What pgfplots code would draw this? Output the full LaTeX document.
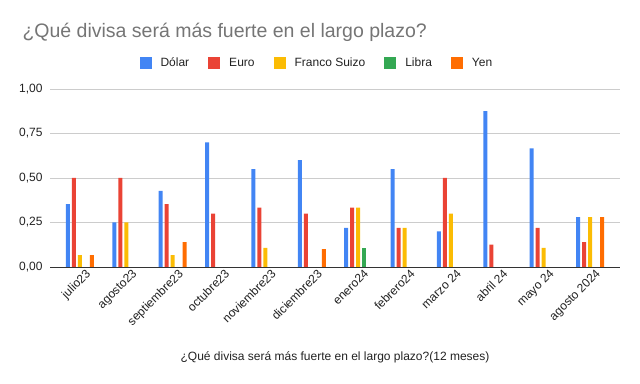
\documentclass[border=0pt]{standalone}
\usepackage{pgfplots}
\pgfplotsset{compat=1.18}
\usepackage{fontspec}
\setmainfont{Liberation Sans}
\definecolor{cDolar}{HTML}{4285F4}
\definecolor{cEuro}{HTML}{EA4335}
\definecolor{cFranco}{HTML}{FBBC04}
\definecolor{cLibra}{HTML}{34A853}
\definecolor{cYen}{HTML}{FF6D01}
\definecolor{titlegray}{HTML}{757575}
\definecolor{textdark}{HTML}{222222}
\begin{document}
\begin{tikzpicture}
\path[use as bounding box] (0bp,0bp) rectangle (640bp,384bp);
\node[anchor=base west, text=titlegray, font=\fontsize{19.5bp}{22bp}\selectfont] at (19bp,346bp) {¿Qué divisa será más fuerte en el largo plazo?};
\begin{axis}[
  at={(50bp,117bp)}, anchor=south west,
  scale only axis,
  width=570bp, height=178bp,
  xmin=-0.647, xmax=11.647,
  ymin=0, ymax=1,
  ybar=2bp, bar width=4bp,
  xtick={0,1,2,3,4,5,6,7,8,9,10,11},
  xticklabels={julio23,agosto23,septiembre23,octubre23,noviembre23,diciembre23,enero24,febrero24,marzo 24,abril 24,mayo 24,agosto 2024},
  ytick={0,0.25,0.5,0.75,1},
  axis lines*=left,
  y axis line style={draw=none},
  x axis line style={draw=black!80, line width=1pt},
  major tick length=0pt,
  ymajorgrids,
  grid style={draw=black!20, line width=0.8pt},
  tick label style={text=textdark, font=\fontsize{12bp}{14bp}\selectfont},
  /pgf/number format/assume math mode=true,
  yticklabel style={/pgf/number format/.cd, fixed, fixed zerofill, precision=2, use comma, assume math mode=true},
  yticklabel shift=4bp,
  xticklabel style={rotate=45, anchor=north east, xshift=6bp, yshift=-1bp},
  xlabel={¿Qué divisa será más fuerte en el largo plazo?(12 meses)},
  xlabel style={at={(axis description cs:0.5,-0.506)}, anchor=center, text=textdark, font=\fontsize{12bp}{14bp}\selectfont},
  legend columns=5,
  legend style={at={(0.470,1.148)}, anchor=center, draw=none, fill=none,
    font=\fontsize{12bp}{14bp}\selectfont, text=textdark,
    /tikz/every even column/.append style={column sep=15bp},
    /tikz/every odd column/.append style={column sep=5bp},
    nodes={inner xsep=4bp}},
  legend image code/.code={\fill[#1] (0bp,-6bp) rectangle (12bp,6bp);},
]
\addplot[fill=cDolar, draw=none] coordinates {(0,0.353) (1,0.25) (2,0.427) (3,0.7) (4,0.55) (5,0.6) (6,0.22) (7,0.55) (8,0.2) (9,0.875) (10,0.667) (11,0.28)};
\addlegendentry{Dólar}
\addplot[fill=cEuro, draw=none] coordinates {(0,0.5) (1,0.5) (2,0.353) (3,0.3) (4,0.333) (5,0.3) (6,0.333) (7,0.22) (8,0.5) (9,0.125) (10,0.22) (11,0.14)};
\addlegendentry{Euro}
\addplot[fill=cFranco, draw=none] coordinates {(0,0.067) (1,0.25) (2,0.067) (4,0.107) (6,0.333) (7,0.22) (8,0.3) (10,0.107) (11,0.28)};
\addlegendentry{Franco Suizo}
\addplot[fill=cLibra, draw=none] coordinates {(6,0.107)};
\addlegendentry{Libra}
\addplot[fill=cYen, draw=none] coordinates {(0,0.067) (2,0.14) (5,0.1) (11,0.28)};
\addlegendentry{Yen}
\end{axis}
\end{tikzpicture}
\end{document}
